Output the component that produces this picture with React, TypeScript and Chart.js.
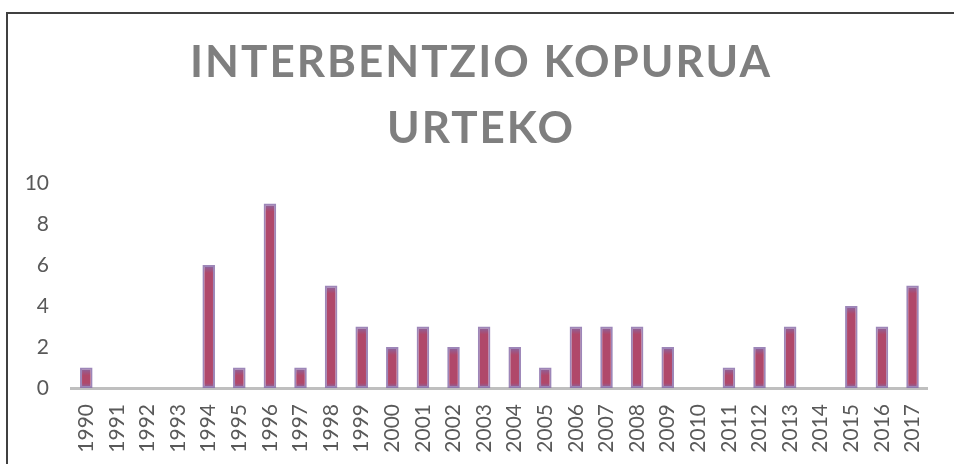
import React, { useEffect, useRef } from "react";
import { Chart, registerables } from "chart.js";

Chart.register(...registerables);

const TITLE_LINES = ["INTERBENTZIO KOPURUA", "URTEKO"];
const YEARS = [
  "1990", "1991", "1992", "1993", "1994", "1995", "1996", "1997", "1998", "1999",
  "2000", "2001", "2002", "2003", "2004", "2005", "2006", "2007", "2008", "2009",
  "2010", "2011", "2012", "2013", "2014", "2015", "2016", "2017",
];
const INTERVENTIONS = [
  1, 0, 0, 0, 6, 1, 9, 1, 5, 3,
  2, 3, 2, 3, 2, 1, 3, 3, 3, 2,
  0, 1, 2, 3, 0, 4, 3, 5,
];
const Y_MIN = 0;
const Y_MAX = 10;
const Y_STEP = 2;

const RED = "#b0486a";
const PURPLE = "#8468a6";

export default function App() {
  const canvasRef = useRef<HTMLCanvasElement | null>(null);

  useEffect(() => {
    const canvas = canvasRef.current;
    if (!canvas) return;

    const chart = new Chart(canvas, {
      type: "bar",
      data: {
        labels: YEARS,
        datasets: [
          {
            label: "Interbentzioak",
            data: INTERVENTIONS,
            backgroundColor: (c: any) => {
              const ch = c.chart;
              const ys = ch.scales && ch.scales.y;
              if (!ys || typeof c.raw !== "number" || c.raw <= 0) return RED;
              const top = ys.getPixelForValue(c.raw);
              const base = ys.getPixelForValue(0);
              if (!Number.isFinite(top) || !Number.isFinite(base) || base - top < 1) return RED;
              const h = base - top;
              const g = ch.ctx.createLinearGradient(0, top, 0, base);
              const a = Math.min(0.45, 8 / h);
              const b = Math.max(a, 1 - Math.min(0.3, 5 / h));
              g.addColorStop(0, PURPLE);
              g.addColorStop(a, RED);
              g.addColorStop(b, RED);
              g.addColorStop(1, PURPLE);
              return g;
            },
            borderColor: "rgba(132,104,166,0.8)",
            borderWidth: 2,
            borderSkipped: false,
            categoryPercentage: 1,
            barPercentage: 0.41,
          },
        ],
      },
      options: {
        responsive: false,
        animation: false,
        layout: { padding: { left: 1, right: 15, top: 0, bottom: 0 } },
        plugins: {
          legend: { display: false },
          tooltip: { enabled: false },
          title: {
            display: true,
            text: TITLE_LINES,
            color: "#7f7f7f",
            font: { family: "Lato", size: 44, weight: "bold", lineHeight: 1.5 },
            padding: { top: 30, bottom: 21 },
          },
        },
        scales: {
          x: {
            grid: { display: false, drawTicks: false },
            border: { display: true, color: "#bfbfbf", width: 3 },
            ticks: {
              color: "#595959",
              font: { family: "Lato", size: 21 },
              minRotation: 90,
              maxRotation: 90,
              autoSkip: false,
              padding: 16,
            },
            afterFit: (s: any) => {
              s.height = 76;
            },
          },
          y: {
            min: Y_MIN,
            max: Y_MAX,
            grid: { display: false, drawTicks: false },
            border: { display: false },
            ticks: {
              stepSize: Y_STEP,
              color: "#595959",
              font: { family: "Lato", size: 21 },
              padding: 22,
            },
            afterFit: (s: any) => {
              s.width = 70;
            },
          },
        },
      },
    });

    const tb: any = (chart as any).titleBlock;
    if (tb) {
      const orig = tb.draw.bind(tb);
      tb.draw = function () {
        const ctx = chart.ctx as any;
        ctx.save();
        ctx.letterSpacing = "2px";
        ctx.translate(11, 0);
        orig();
        ctx.restore();
      };
    }
    chart.update();

    return () => {
      chart.destroy();
    };
  }, []);

  return (
    <div style={{ position: "fixed", left: 0, top: 0, width: 954, height: 464, overflow: "hidden", background: "#ffffff" }}>
      <div
        style={{
          position: "absolute",
          left: 6,
          top: 12,
          width: 1200,
          height: 800,
          border: "2px solid #404040",
          boxSizing: "border-box",
        }}
      />
      <canvas
        ref={canvasRef}
        width={954}
        height={464}
        style={{ position: "absolute", left: 0, top: 0, width: 954, height: 464 }}
      />
    </div>
  );
}
